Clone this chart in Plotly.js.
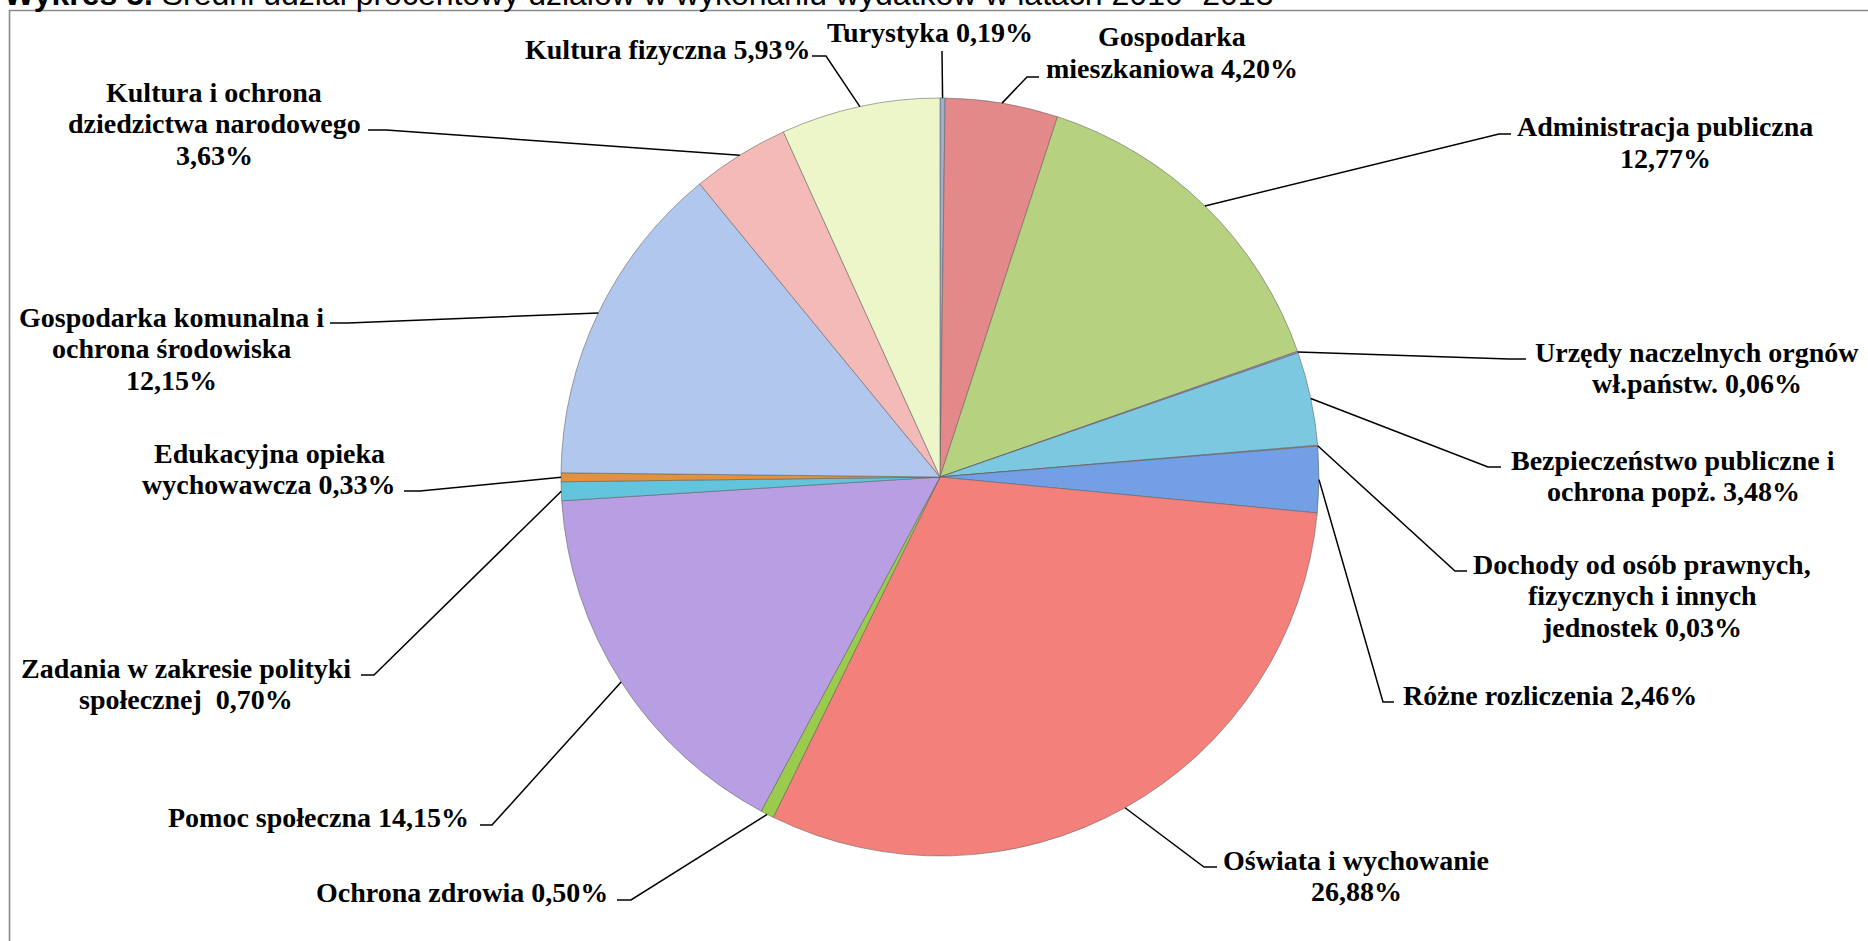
<!DOCTYPE html>
<html>
<head>
<meta charset="utf-8">
<script src="https://cdn.plot.ly/plotly-3.0.1.min.js"></script>
<style>
html,body{margin:0;padding:0;background:#ffffff;}
#chart{width:1868px;height:941px;}
</style>
</head>
<body>
<div id="chart"></div>
<script>
// ---------------- data ----------------
const categories = [
  "Turystyka",
  "Gospodarka mieszkaniowa",
  "Administracja publiczna",
  "Urzędy naczelnych orgnów wł.państw.",
  "Bezpieczeństwo publiczne i ochrona popż.",
  "Dochody od osób prawnych, fizycznych i innych jednostek",
  "Różne rozliczenia",
  "Oświata i wychowanie",
  "Ochrona zdrowia",
  "Pomoc społeczna",
  "Zadania w zakresie polityki społecznej",
  "Edukacyjna opieka wychowawcza",
  "Gospodarka komunalna i ochrona środowiska",
  "Kultura i ochrona dziedzictwa narodowego",
  "Kultura fizyczna"
];
const values = [0.19, 4.20, 12.77, 0.06, 3.48, 0.03, 2.46, 26.88, 0.50, 14.15, 0.70, 0.33, 12.15, 3.63, 5.93];

// label text, line by line ({p} = the value as a percentage)
const labelLines = [
  ["Turystyka {p}"],
  ["Gospodarka", "mieszkaniowa {p}"],
  ["Administracja publiczna", "{p}"],
  ["Urzędy naczelnych orgnów", "wł.państw. {p}"],
  ["Bezpieczeństwo publiczne i", "ochrona popż. {p}"],
  ["Dochody od osób prawnych,", "fizycznych i innych", "jednostek {p}"],
  ["Różne rozliczenia {p}"],
  ["Oświata i wychowanie", "{p}"],
  ["Ochrona zdrowia {p}"],
  ["Pomoc społeczna {p}"],
  ["Zadania w zakresie polityki", "społecznej\u00a0 {p}"],
  ["Edukacyjna opieka", "wychowawcza {p}"],
  ["Gospodarka komunalna i", "ochrona środowiska", "{p}"],
  ["Kultura i ochrona", "dziedzictwa narodowego", "{p}"],
  ["Kultura fizyczna {p}"]
];

const titleBold = "Wykres 5.";
const titleRest = " Średni udział procentowy działów w wykonaniu wydatków w latach 2010- 2013";

// ---------------- styles / layout ----------------
const sliceColors = [
  "#9DAFCF", "#E3898A", "#B6D281", "#A08BC8", "#7CC8E0",
  "#F4A460", "#73A0E4", "#F4807B", "#9BCB4C", "#B89EE2",
  "#62C5DD", "#E0923F", "#B2C7EE", "#F4BAB8", "#ECF6C8"
];

const W = 1868, H = 941;
const PIE_CX = 940, PIE_CY = 477, PIE_R = 379;
const LINE_GAP = 31.5;
const LABEL_FONT = {family: "Liberation Serif, Times New Roman, serif", size: 28, color: "#000000"};

// label placement (pixels): text centre x, first line centre y, leader elbow (ex,ey), tick end x
const labelPos = [
  {cx: 930,  y0: 33,  ex: 942,  ey: 51,  tx: 942},
  {cx: 1172, y0: 37,  ex: 1027, ey: 77,  tx: 1039},
  {cx: 1665, y0: 127, ex: 1499, ey: 134, tx: 1511},
  {cx: 1697, y0: 352, ex: 1509, ey: 359, tx: 1526},
  {cx: 1673, y0: 460, ex: 1488, ey: 467, tx: 1501},
  {cx: 1642, y0: 564, ex: 1455, ey: 571, tx: 1467},
  {cx: 1550, y0: 695, ex: 1383, ey: 702, tx: 1394},
  {cx: 1356, y0: 860, ex: 1204, ey: 867, tx: 1217},
  {cx: 462,  y0: 892, ex: 631,  ey: 900, tx: 617},
  {cx: 318,  y0: 817, ex: 492,  ey: 825, tx: 480},
  {cx: 186,  y0: 668, ex: 374,  ey: 675, tx: 361},
  {cx: 269,  y0: 453, ex: 420,  ey: 491, tx: 404},
  {cx: 171,  y0: 317, ex: 348,  ey: 323, tx: 330},
  {cx: 214,  y0: 92,  ex: 386,  ey: 130, tx: 368},
  {cx: 667,  y0: 50,  ex: 826,  ey: 56,  tx: 812}
];

const px = x => x / W;
const py = y => 1 - y / H;
const fmt = v => v.toFixed(2).replace(".", ",") + "%";

const annotations = [];
const shapes = [];

// frame
shapes.push({
  type: "rect", xref: "paper", yref: "paper", layer: "below",
  x0: px(9.5), y0: py(H + 20), x1: px(W + 20), y1: py(10.5),
  line: {color: "#8a8a8a", width: 1.6}, fillcolor: "rgba(0,0,0,0)"
});

// title (cut at the top of the image)
annotations.push({
  xref: "paper", yref: "paper", x: px(2), y: py(14),
  xanchor: "left", yanchor: "bottom", showarrow: false,
  text: "<b>" + titleBold + "</b>" + titleRest,
  font: {family: "Liberation Sans, Arial, sans-serif", size: 32, color: "#000000"}
});

// labels and leader lines
const total = values.reduce((a, b) => a + b, 0);
let cum = 0;
values.forEach((v, i) => {
  const th = 2 * Math.PI * (cum + v / 2) / total;
  cum += v;
  const sx = PIE_CX + PIE_R * Math.sin(th);
  const sy = PIE_CY - PIE_R * Math.cos(th);
  const L = labelPos[i];
  shapes.push({
    type: "path", xref: "paper", yref: "paper", layer: "above",
    path: "M " + px(sx) + "," + py(sy) + " L " + px(L.ex) + "," + py(L.ey) + " L " + px(L.tx) + "," + py(L.ey),
    line: {color: "#000000", width: 1.5}
  });
  labelLines[i].forEach((t, k) => {
    annotations.push({
      xref: "paper", yref: "paper", x: px(L.cx), y: py(L.y0 + k * LINE_GAP),
      xanchor: "center", yanchor: "middle", showarrow: false,
      text: "<b>" + t.replace("{p}", fmt(v)) + "</b>",
      font: LABEL_FONT
    });
  });
});

const trace = {
  type: "pie",
  labels: categories,
  values: values,
  sort: false,
  direction: "clockwise",
  rotation: 0,
  textinfo: "none",
  hoverinfo: "label+percent",
  marker: {colors: sliceColors, line: {color: "rgba(95,95,95,0.55)", width: 1}},
  domain: {
    x: [px(PIE_CX - PIE_R), px(PIE_CX + PIE_R)],
    y: [py(PIE_CY + PIE_R), py(PIE_CY - PIE_R)]
  },
  showlegend: false
};

const layout = {
  width: W, height: H,
  margin: {l: 0, r: 0, t: 0, b: 0, pad: 0},
  paper_bgcolor: "#ffffff",
  plot_bgcolor: "#ffffff",
  showlegend: false,
  annotations: annotations,
  shapes: shapes
};

Plotly.newPlot("chart", [trace], layout, {displayModeBar: false, responsive: false});
</script>
</body>
</html>
